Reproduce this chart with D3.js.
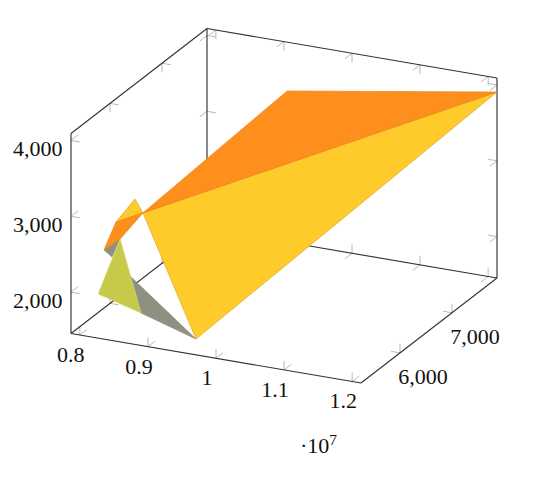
<!DOCTYPE html>
<html>
<head>
<meta charset="utf-8">
<script src="https://cdnjs.cloudflare.com/ajax/libs/d3/7.8.5/d3.min.js"></script>
<style>
body { margin: 0; background: #fff; }
text { font-family: "Liberation Serif", serif; font-size: 22px; fill: #111; }
</style>
</head>
<body>
<script>
// surface vertices
const vertexX = [12.13e6, 9.808e6, 8.228e6, 9.706e6, 8.111e6, 8.031e6, 7.955e6, 7.991e6, 7.973e6, 7.87e6, 8.499e6, 8.138e6]
const vertexY = [7865, 6869, 6165, 5250, 6165, 5904, 5773, 6035, 5904, 5773, 5773, 6035]
const vertexZ = [3907, 4092, 2615, 1662, 2781, 2603, 2292, 2303, 2132, 1698, 1544, 1838]

// triangles and patches, back to front
const faces = [[11, 3, 10], [6, 7, 8], [7, 9, 10], [2, 0, 3], [5, 4, 2], [6, 5, 2, 7], [2, 1, 0]]
const faceFill = ["#8f9180", "#8f9180", "#c7c94b", "#ffcb2b", "#ffcb2b", "#ff8f1c", "#ff8f1c"]
const faceEdge = ["#8f9180", "#8f9180", "#d8d56a", "#d9a82a", "#d9a82a", "#e8851c", "#e8851c"]

const xTicks = [8e6, 9e6, 10e6, 11e6, 12e6]
const yTicks = [6000, 7000]
const zTicks = [2000, 3000, 4000]
const xDomain = [7.87e6, 12.13e6]
const yDomain = [5250, 7865]
const zDomain = [1454, 4092]

const svg = d3.select("body").append("svg").attr("width", 540).attr("height", 483)

const xs = d3.scaleLinear().domain(xDomain).range([0, 1])
const ys = d3.scaleLinear().domain(yDomain).range([0, 1])
const zs = d3.scaleLinear().domain(zDomain).range([0, 1])

// box projection, unit cube -> page
const project = (u, v, w) => [71 + 290 * u + 136 * v, 333.5 + 49.5 * u - 105 * v - 200 * w]

const ticks = []
function addTick(a, b, c) {
    const p = project(...a)
    ticks.push([p, project(a[0] + b[0], a[1] + b[1], a[2] + b[2])])
    ticks.push([p, project(a[0] + c[0], a[1] + c[1], a[2] + c[2])])
}
const lu = 9 / 296, lv = 9 / 172, lw = 9 / 200
xTicks.forEach(t => {
    const u = xs(t)
    addTick([u, 0, 0], [0, lv, 0], [0, 0, lw])
    addTick([u, 1, 0], [0, -lv, 0], [0, 0, lw])
    addTick([u, 1, 1], [0, -lv, 0], [0, 0, -lw])
})
yTicks.forEach(t => {
    const v = ys(t)
    addTick([1, v, 0], [-lu, 0, 0], [0, 0, lw])
    addTick([0, v, 0], [lu, 0, 0], [0, 0, lw])
    addTick([0, v, 1], [lu, 0, 0], [0, 0, -lw])
})
zTicks.forEach(t => {
    const w = zs(t)
    addTick([0, 0, w], [lu, 0, 0], [0, lv, 0])
    addTick([0, 1, w], [lu, 0, 0], [0, -lv, 0])
    addTick([1, 1, w], [-lu, 0, 0], [0, -lv, 0])
})

const line = d3.line()
svg.append("g").selectAll("path").data(ticks).join("path")
    .attr("d", line).attr("fill", "none").attr("stroke", "#b8b8b8").attr("stroke-width", 1)

// box edges that are drawn
const corners = [
    [[0, 0, 0], [1, 0, 0]], [[1, 0, 0], [1, 1, 0]], [[1, 1, 0], [0, 1, 0]], [[0, 1, 0], [0, 0, 0]],
    [[0, 0, 0], [0, 0, 1]], [[0, 1, 0], [0, 1, 1]], [[1, 1, 0], [1, 1, 1]],
    [[0, 0, 1], [0, 1, 1]], [[0, 1, 1], [1, 1, 1]]
]
svg.append("g").selectAll("path").data(corners).join("path")
    .attr("d", d => line(d.map(c => project(...c))))
    .attr("fill", "none").attr("stroke", "#333").attr("stroke-width", 1.15)

const vertexPoint = i => project(xs(vertexX[i]), ys(vertexY[i]), zs(vertexZ[i]))
svg.append("g").selectAll("path").data(faces).join("path")
    .attr("d", d => line(d.map(vertexPoint)) + "Z")
    .attr("fill", (d, i) => faceFill[i])
    .attr("stroke", (d, i) => faceEdge[i])
    .attr("stroke-width", 0.7)
    .attr("stroke-linejoin", "round")

// tick labels
const xFmt = d => String(d / 1e7)
svg.append("g").selectAll("text").data(xTicks).join("text")
    .attr("x", d => project(xs(d), 0, 0)[0] - 9)
    .attr("y", d => project(xs(d), 0, 0)[1] + 27)
    .attr("text-anchor", "middle")
    .text(xFmt)
svg.append("g").selectAll("text").data(yTicks).join("text")
    .attr("x", d => project(1, ys(d), 0)[0] + 23)
    .attr("y", d => project(1, ys(d), 0)[1] + 31)
    .attr("text-anchor", "middle")
    .text(d3.format(","))
svg.append("g").selectAll("text").data(zTicks).join("text")
    .attr("x", 62.5)
    .attr("y", d => project(0, 0, zs(d))[1] + 15.5)
    .attr("text-anchor", "end")
    .text(d3.format(","))

const scaleLabel = svg.append("text").attr("x", 300).attr("y", 453)
scaleLabel.append("tspan").text("·10")
scaleLabel.append("tspan").attr("dy", -8).style("font-size", "15.5px").text("7")
</script>
</body>
</html>
